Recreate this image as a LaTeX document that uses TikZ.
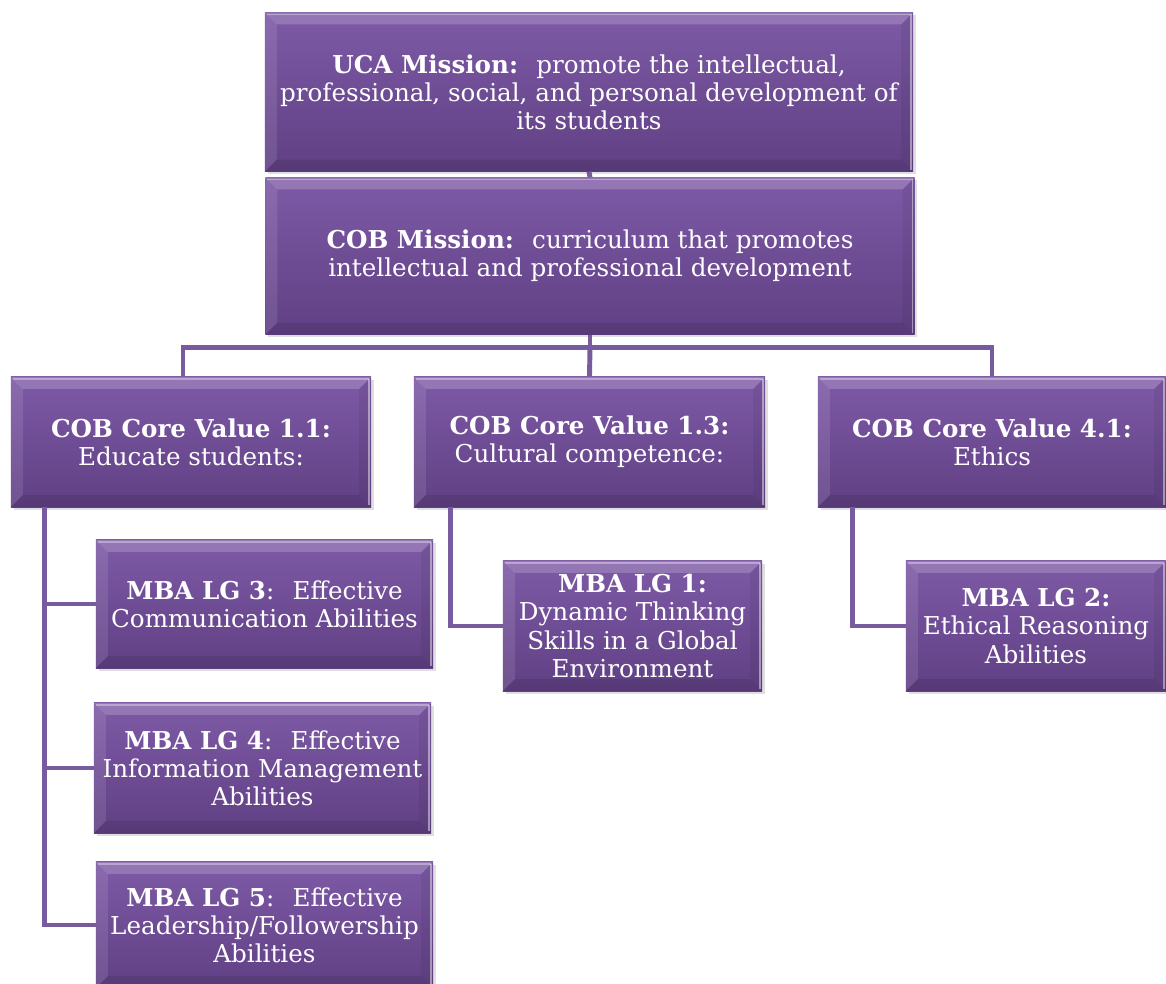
\documentclass[tikz,border=0pt]{standalone}
\usepackage{fontspec}
\setmainfont{DejaVu Serif}
\usetikzlibrary{shadows}
\definecolor{goaltop}{RGB}{126,90,166}
\definecolor{goalbot}{RGB}{96,64,132}
\definecolor{goallink}{RGB}{120,90,158}
\newcommand\bevelbox{%
  \path (path picture bounding box.south west) coordinate (bl)
        (path picture bounding box.north east) coordinate (tr)
        (path picture bounding box.north west) coordinate (tl)
        (path picture bounding box.south east) coordinate (br);
  \fill[white,opacity=.18] (tl) -- (tr) -- ([shift={(-.3cm,-.3cm)}]tr) -- ([shift={(.3cm,-.3cm)}]tl) -- cycle;
  \fill[white,opacity=.1] (tl) -- (bl) -- ([shift={(.3cm,.3cm)}]bl) -- ([shift={(.3cm,-.3cm)}]tl) -- cycle;
  \fill[black,opacity=.1] (bl) -- (br) -- ([shift={(-.3cm,.3cm)}]br) -- ([shift={(.3cm,.3cm)}]bl) -- cycle;
  \fill[black,opacity=.06] (tr) -- (br) -- ([shift={(-.3cm,.3cm)}]br) -- ([shift={(-.3cm,-.3cm)}]tr) -- cycle;
  \draw[white,opacity=.45,line width=1.2pt] ([shift={(-.05cm,-.05cm)}]tr) -- ([shift={(-.05cm,.05cm)}]br);
  \draw[white,opacity=.35,line width=1.2pt] ([shift={(.05cm,-.05cm)}]tl) -- ([shift={(-.05cm,-.05cm)}]tr);}
\tikzset{
  goal/.style 2 args={rectangle, minimum width=#1, minimum height=#2, inner sep=0pt,
    top color=goaltop, bottom color=goalbot, text=white, align=center,
    font=\fontsize{17.5}{20}\selectfont,
    drop shadow={opacity=.25, shadow xshift=2pt, shadow yshift=-2pt},
    path picture={\bevelbox}},
  link/.style={draw=goallink, line width=3.5pt}
}
\begin{document}
\begin{tikzpicture}[x=0.025cm,y=-0.025cm]
\useasboundingbox (0,0) rectangle (1166,984);
\node[goal={16.2cm}{3.975cm}] (uca) at (589,92) {\textbf{UCA Mission:}~ promote the intellectual,\\ professional, social, and personal development of\\ its students};
\node[goal={16.225cm}{3.925cm}] (cob) at (590,256) {\textbf{COB Mission:}~ curriculum that promotes\\ intellectual and professional development};
\node[goal={9cm}{3.25cm}] (cv11) at (191,442) {\textbf{COB Core Value 1.1:}\\ Educate students:};
\node[goal={8.775cm}{3.25cm}] (cv13) at (589.5,442) {\textbf{COB Core Value 1.3:}\\ Cultural competence:};
\node[goal={8.7cm}{3.25cm}] (cv41) at (992,442) {\textbf{COB Core Value 4.1:}\\ Ethics};
\node[goal={8.425cm}{3.2cm}] (lg3) at (264.5,604) {\textbf{MBA LG 3}:~ Effective\\ Communication Abilities};
\node[goal={8.425cm}{3.25cm}] (lg4) at (262.5,768) {\textbf{MBA LG 4}:~ Effective\\ Information Management\\ Abilities};
\node[goal={8.425cm}{3.15cm}] (lg5) at (264.5,925) {\textbf{MBA LG 5}:~ Effective\\ Leadership/Followership\\ Abilities};
\node[goal={6.475cm}{3.25cm}] (lg1) at (632.5,626) {\textbf{MBA LG 1:}\\ Dynamic Thinking\\ Skills in a Global\\ Environment};
\node[goal={6.5cm}{3.25cm}] (lg2) at (1036,626) {\textbf{MBA LG 2:}\\ Ethical Reasoning\\ Abilities};
\draw[link] (uca.south) -- (cob.north);
\draw[link] (cob.south) -- ++(0,13) coordinate (bus) -| ([xshift=-.2cm]cv11.north);
\draw[link] (bus) -| (cv41.north);
\draw[link] (bus) -- (cv13.north);
\draw[link] ([xshift=.85cm]cv11.south west) |- (lg3.west);
\draw[link] ([xshift=.85cm]cv11.south west) |- (lg4.west);
\draw[link] ([xshift=.85cm]cv11.south west) |- (lg5.west);
\draw[link] ([xshift=.925cm]cv13.south west) |- (lg1.west);
\draw[link] ([xshift=.875cm]cv41.south west) |- (lg2.west);
\end{tikzpicture}
\end{document}
